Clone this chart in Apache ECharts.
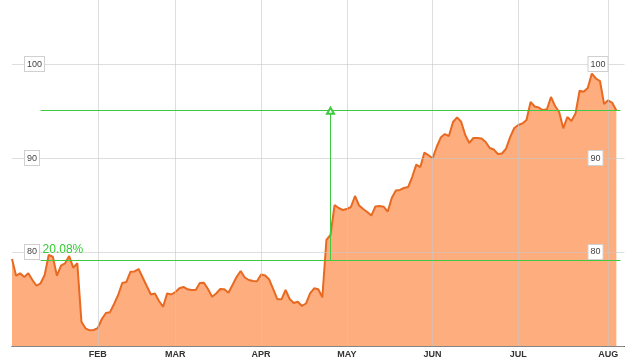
<!DOCTYPE html>
<html>
<head>
<meta charset="utf-8">
<script src="https://cdn.jsdelivr.net/npm/echarts@6/dist/echarts.min.js"></script>
<style>
html,body{margin:0;padding:0;background:#fff;}
#chart{width:633px;height:362px;}
</style>
</head>
<body>
<div id="chart"></div>
<script>
// ---- data ----
const year = 2014;
// trading days per month (Jan..Aug); Aug 6, 7 are empty padding at the end of the axis
const tradingDays = [
  [2,3,6,7,8,9,10,13,14,15,16,17,21,22,23,24,27,28,29,30,31],
  [3,4,5,6,7,10,11,12,13,14,18,19,20,21,24,25,26,27,28],
  [3,4,5,6,7,10,11,12,13,14,17,18,19,20,21,24,25,26,27,28,31],
  [1,2,3,4,7,8,9,10,11,14,15,16,17,21,22,23,24,25,28,29,30],
  [1,2,5,6,7,8,9,12,13,14,15,16,19,20,21,22,23,27,28,29,30],
  [2,3,4,5,6,9,10,11,12,13,16,17,18,19,20,23,24,25,26,27,30],
  [1,2,3,7,8,9,10,11,14,15,16,17,18,21,22,23,24,25,28,29,30,31],
  [1,4,5,6,7]
];
const monthLabels = ['JAN','FEB','MAR','APR','MAY','JUN','JUL','AUG','SEP','OCT','NOV','DEC'];
const prices = [
  79.26,77.48,77.73,77.34,77.73,77.02,76.41,76.67,77.55,79.68,
  79.50,77.48,78.54,78.80,79.57,78.33,78.80,72.59,71.88,71.67,
  71.70,71.90,72.87,73.51,73.60,74.47,75.43,76.70,76.80,77.90,
  77.93,78.19,77.29,76.38,75.48,75.59,74.79,74.18,75.60,75.48,
  75.74,76.14,76.28,76.03,75.96,75.96,76.70,76.73,76.06,75.24,
  75.59,76.06,76.03,75.67,76.49,77.34,77.98,77.29,77.02,76.91,
  76.89,77.61,77.50,77.07,76.03,74.97,74.97,75.96,75.00,74.57,
  74.71,74.26,74.52,75.60,76.14,76.03,75.18,81.28,81.81,85.00,
  84.68,84.47,84.57,84.79,85.96,84.95,84.57,84.26,83.88,84.84,
  84.89,84.82,84.29,85.74,86.54,86.60,86.81,86.91,87.98,89.29,
  89.04,90.58,90.29,89.97,91.17,92.18,92.55,92.34,93.83,94.33,
  93.86,92.45,91.60,92.13,92.13,92.07,91.70,91.06,90.90,90.43,
  90.48,91.01,92.23,93.19,93.51,93.67,94.04,95.96,95.48,95.37,
  95.11,95.18,96.49,95.53,94.89,93.16,94.36,93.94,94.73,97.16,
  97.05,97.45,98.99,98.46,98.19,95.74,96.14,95.88,95.05
];
const yTickLabels = [80, 90, 100];
// measurement annotation: two levels and where they are drawn
const lowLevel = 79.15;
const highLevel = 95.04;
const levelStartDate = '2014-01-13';
const levelEndDate = '2014-08-06';
const arrowDate = '2014-04-25';

// ---- build ----
const pad = n => (n < 10 ? '0' : '') + n;
const categories = [];
tradingDays.forEach((days, m) => days.forEach(d => categories.push(year + '-' + pad(m + 1) + '-' + pad(d))));
const monthStart = new Set();
for (let i = 1; i < categories.length; i++) {
  if (categories[i].slice(5, 7) !== categories[i - 1].slice(5, 7)) monthStart.add(i);
}
const isMonthStart = (idx) => monthStart.has(idx);
const pctText = ((highLevel / lowLevel - 1) * 100).toFixed(2) + '%';
const green = '#3fc93f';
const font = 'Liberation Sans, Arial, sans-serif';

const yLabel = {
  inside: true,
  fontSize: 9,
  fontFamily: font,
  color: '#444',
  backgroundColor: '#fff',
  borderColor: '#d0d0d0',
  borderWidth: 1,
  padding: [2, 2, 1, 2],
  lineHeight: 11,
  showMinLabel: false,
  showMaxLabel: false,
  formatter: v => (yTickLabels.indexOf(v) >= 0 ? String(v) : '')
};

const chart = echarts.init(document.getElementById('chart'), null, {renderer: 'canvas'});
chart.setOption({
  animation: false,
  grid: {left: 12, right: 8.5, top: -6, bottom: 16, containLabel: false, outerBoundsMode: 'none'},
  xAxis: {
    type: 'category',
    data: categories,
    boundaryGap: false,
    z: 3,
    axisLine: {show: true, lineStyle: {color: '#222', width: 1}},
    axisTick: {show: false},
    axisLabel: {
      interval: isMonthStart,
      formatter: v => monthLabels[parseInt(v.slice(5, 7), 10) - 1],
      color: '#333', fontSize: 9, fontWeight: 'bold', fontFamily: font, margin: 4
    },
    splitLine: {show: true, interval: isMonthStart, lineStyle: {color: '#c8c8c8', opacity: 0.6, width: 1}}
  },
  yAxis: [
    {
      type: 'value', position: 'left', min: 70, max: 107.45, interval: 10, z: 4,
      axisLine: {show: false}, axisTick: {show: false},
      axisLabel: Object.assign({}, yLabel, {margin: 13}),
      splitLine: {show: true, lineStyle: {color: '#c8c8c8', opacity: 0.6, width: 1}}
    },
    {
      type: 'value', position: 'right', min: 70, max: 107.45, interval: 10, z: 4,
      axisLine: {show: false}, axisTick: {show: false},
      axisLabel: Object.assign({}, yLabel, {margin: 36, align: 'left'}),
      splitLine: {show: false}
    }
  ],
  series: [{
    type: 'line',
    data: prices,
    yAxisIndex: 0,
    z: 2,
    symbol: 'none',
    smooth: false,
    lineStyle: {color: '#e86a22', width: 2},
    itemStyle: {color: '#e86a22'},
    areaStyle: {color: '#fdad7e', opacity: 1},
    markLine: {
      silent: true,
      animation: false,
      symbol: ['none', 'none'],
      lineStyle: {color: green, width: 1, type: 'solid'},
      label: {show: false},
      emphasis: {disabled: true},
      data: [
        [
          {coord: [levelStartDate, lowLevel],
           label: {show: true, formatter: pctText, position: 'insideStartTop', distance: [2, 4],
                   color: '#33cc33', fontSize: 12, fontFamily: font}},
          {coord: [levelEndDate, lowLevel]}
        ],
        [
          {coord: [levelStartDate, highLevel]},
          {coord: [levelEndDate, highLevel]}
        ],
        [
          {coord: [arrowDate, lowLevel], symbol: 'none'},
          {coord: [arrowDate, highLevel], symbol: 'emptyTriangle', symbolSize: [7, 6]}
        ]
      ]
    }
  }]
});
</script>
</body>
</html>
